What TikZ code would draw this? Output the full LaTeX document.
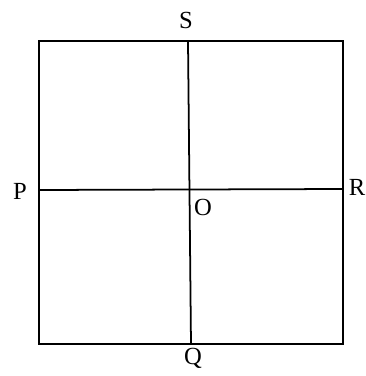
\documentclass[tikz,border=0pt]{standalone}
\usepackage{fontspec}
\setmainfont{Liberation Serif}
\usetikzlibrary{positioning,calc}

\begin{document}
\begin{tikzpicture}[
    edge/.style={draw, line width=1pt},
    lbl/.style={font=\fontsize{14}{16}\selectfont, inner sep=0pt}
]
    \useasboundingbox (0,0) rectangle (7.32,7.52);

    % Corners
    \coordinate (tl) at (0.78,6.70);
    \coordinate (tr) at (6.86,6.70);
    \coordinate (br) at (6.86,0.64);
    \coordinate (bl) at (0.78,0.64);

    % Midpoints of the sides
    \coordinate (p) at (0.78,3.72);
    \coordinate (r) at (6.86,3.74);
    \coordinate (s) at (3.76,6.70);
    \coordinate (q) at (3.82,0.64);
    \coordinate (o) at (3.78,3.73);

    % Square and cross lines
    \draw[edge] (tl) -- (tr) -- (br) -- (bl) -- cycle;
    \draw[edge] (p) -- (r);
    \draw[edge] (s) -- (q);

    % Labels
    \node[lbl] (lp) at (0.40,3.70) {P};
    \node[lbl] (lr) at (7.14,3.78) {R};
    \node[lbl] (ls) at (3.72,7.12) {S};
    \node[lbl] (lq) at (3.86,0.36) {Q};
    \node[lbl] (lo) at (4.06,3.38) {O};
\end{tikzpicture}
\end{document}
